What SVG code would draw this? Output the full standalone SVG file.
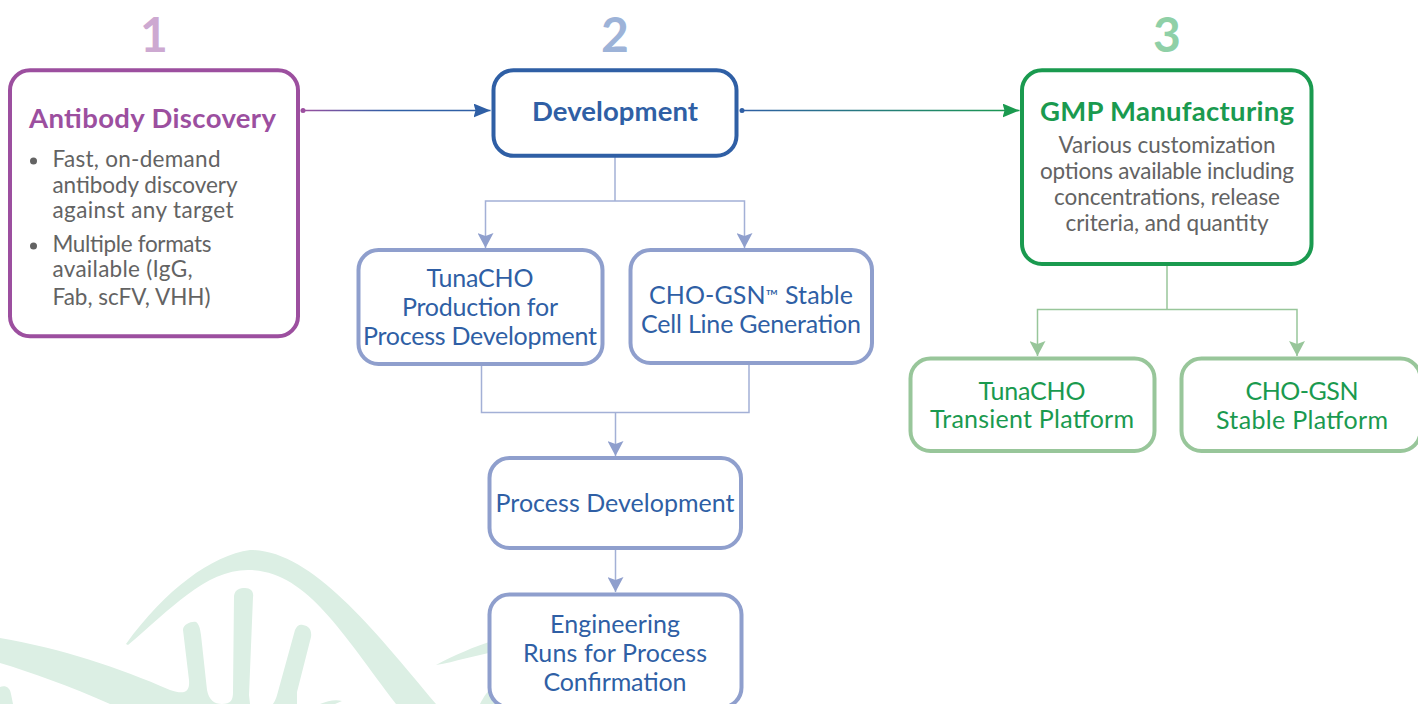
<svg xmlns="http://www.w3.org/2000/svg" width="1418" height="704" viewBox="0 0 1418 704">
<style>
text{font-family:"Lato","Noto Sans","Liberation Sans",sans-serif}
.box{fill:#fff;stroke-width:4}
.num{font-size:48px;font-weight:700;text-anchor:middle}
.h{font-size:27.500px;font-weight:700;text-anchor:middle}
.t{font-size:25px;text-anchor:middle}
.b{fill:#2f5fa5}.g{fill:#1a9a4f}
.d{font-size:22.500px;fill:#636363}
.dc{font-size:22.500px;fill:#636363;text-anchor:middle}
.ln{fill:none;stroke-width:1.5}
</style>
<defs>
<linearGradient id="pb" gradientUnits="userSpaceOnUse" x1="302" y1="0" x2="490" y2="0"><stop offset="0" stop-color="#9c4f9f"/><stop offset="0.45" stop-color="#2f5fa5"/></linearGradient>
<linearGradient id="bg" gradientUnits="userSpaceOnUse" x1="741" y1="0" x2="1018" y2="0"><stop offset="0" stop-color="#2f5fa5"/><stop offset="1" stop-color="#1a9a4f"/></linearGradient>
<marker id="aL" markerUnits="userSpaceOnUse" markerWidth="15" markerHeight="16" refX="15" refY="8" orient="auto"><path d="M0,0L15,8L0,16L3,8Z" fill="#8f9fcd"/></marker>
<marker id="aG" markerUnits="userSpaceOnUse" markerWidth="15" markerHeight="16" refX="15" refY="8" orient="auto"><path d="M0,0L15,8L0,16L3,8Z" fill="#98c69a"/></marker>
<marker id="aB" markerUnits="userSpaceOnUse" markerWidth="17" markerHeight="14" refX="17" refY="7" orient="auto"><path d="M0,0L17,7L0,14L2,7Z" fill="#2f5fa5"/></marker>
<marker id="aD" markerUnits="userSpaceOnUse" markerWidth="17" markerHeight="14" refX="17" refY="7" orient="auto"><path d="M0,0L17,7L0,14L2,7Z" fill="#1a9a4f"/></marker>
</defs>

<g id="background" fill="#dcefe4">
<path d="M126,644C165,590 212,555 250,550C310,550 370,625 436,704H396C340,630 305,570 248,570C205,570 170,610 128,645Z"/>
<path d="M0,638C60,648 120,668 170,690C185,695 190,692 189,680L183,630C183,624 192,621 196,622C199,624 200,628 201,635L207,690C209,700 214,704 222,704C231,704 233,700 233,692L234,596C235,589 240,588 245,588C251,588 254,592 253,597L249,695L250,704H273C276,700 277,695 279,688L295,630C297,625 300,624 303,625C309,626 312,630 311,637L297,692L297,704H110C70,686 30,672 0,663Z"/>
<path d="M0,687C5,685 10,687 11,694L13,704H0Z"/>
<path d="M320,704C328,701 335,699 342,701L335,704Z"/>
<path d="M436,665C455,655 473,647 495,640V652C475,655 455,662 436,665Z"/>
<path d="M480,704C484,696 488,690 495,686V704Z"/>
</g>

<g id="connectors">
<path class="ln" d="M302,110.500H490.500" stroke="url(#pb)" marker-end="url(#aB)"/>
<circle cx="303" cy="110.500" r="2.500" fill="#9c4f9f"/>
<path class="ln" d="M741,110.500H1019.500" stroke="url(#bg)" marker-end="url(#aD)"/>
<circle cx="742" cy="110.500" r="2.500" fill="#2f5fa5"/>
<path class="ln" stroke="#a3b0d6" d="M615,157V201"/>
<path class="ln" stroke="#a3b0d6" d="M615,201H485.500V248" marker-end="url(#aL)"/>
<path class="ln" stroke="#a3b0d6" d="M615,201H744.500V248" marker-end="url(#aL)"/>
<path class="ln" stroke="#a3b0d6" d="M481.500,365V412.500H749V365"/>
<path class="ln" stroke="#a3b0d6" d="M615.500,412.500V456" marker-end="url(#aL)"/>
<path class="ln" stroke="#a3b0d6" d="M615.500,549V592" marker-end="url(#aL)"/>
<path class="ln" stroke="#98c69a" d="M1167,265V309.500"/>
<path class="ln" stroke="#98c69a" d="M1167,309.500H1037.500V356" marker-end="url(#aG)"/>
<path class="ln" stroke="#98c69a" d="M1167,309.500H1297V356" marker-end="url(#aG)"/>
</g>

<g id="num1"><text class="num" x="154" y="52" fill="#cda9d1">1</text></g>
<g id="num2"><text class="num" x="615" y="52" fill="#9db3d8">2</text></g>
<g id="num3"><text class="num" x="1167" y="52" fill="#8fd0a7">3</text></g>

<g id="antibody-discovery">
<rect class="box" x="10" y="70.300" width="288" height="266" rx="20" stroke="#9c4f9f"/>
<text class="h" x="152.500" y="128" fill="#9c4f9f" textLength="247">Antibody Discovery</text>
<circle cx="33.500" cy="161" r="3.500" fill="#636363"/>
<text class="d" x="52.500" y="167" textLength="168">Fast, on-demand</text>
<text class="d" x="52.500" y="193" textLength="185">antibody discovery</text>
<text class="d" x="52.500" y="218" textLength="181">against any target</text>
<circle cx="33.500" cy="246" r="3.500" fill="#636363"/>
<text class="d" x="52.500" y="252" textLength="159">Multiple formats</text>
<text class="d" x="52.500" y="277" textLength="140">available (IgG,</text>
<text class="d" x="52.500" y="305" textLength="158">Fab, scFV, VHH)</text>
</g>

<g id="development">
<rect class="box" x="493.500" y="70.300" width="243" height="85.500" rx="20" stroke="#2f5fa5"/>
<text class="h b" x="615" y="121" textLength="166">Development</text>
</g>

<g id="tunacho-production">
<rect class="box" x="358.500" y="250" width="244" height="114" rx="20" stroke="#8f9fcd"/>
<text class="t b" x="480" y="287" textLength="107">TunaCHO</text>
<text class="t b" x="480" y="316" textLength="156">Production for</text>
<text class="t b" x="480" y="345" textLength="234">Process Development</text>
</g>

<g id="cho-gsn-generation">
<rect class="box" x="630.500" y="250" width="241.500" height="113" rx="20" stroke="#8f9fcd"/>
<text class="t b" x="751" y="304" textLength="204">CHO-GSN<tspan font-size="17" dy="-2">™</tspan><tspan dy="2"> Stable</tspan></text>
<text class="t b" x="751" y="333" textLength="220">Cell Line Generation</text>
</g>

<g id="process-development">
<rect class="box" x="489.500" y="458" width="251.500" height="90" rx="20" stroke="#8f9fcd"/>
<text class="t b" x="615" y="512" textLength="239">Process Development</text>
</g>

<g id="engineering-runs">
<rect class="box" x="489.500" y="594.500" width="252" height="113" rx="20" stroke="#8f9fcd"/>
<text class="t b" x="615" y="633" textLength="130">Engineering</text>
<text class="t b" x="615" y="662" textLength="184">Runs for Process</text>
<text class="t b" x="615" y="691" textLength="143">Confirmation</text>
</g>

<g id="gmp-manufacturing">
<rect class="box" x="1022" y="70.300" width="289.500" height="193.700" rx="20" stroke="#1a9a4f"/>
<text class="h g" x="1167" y="121" textLength="254">GMP Manufacturing</text>
<text class="dc" x="1167" y="153" textLength="217">Various customization</text>
<text class="dc" x="1167" y="179" textLength="254">options available including</text>
<text class="dc" x="1167" y="205" textLength="226">concentrations, release</text>
<text class="dc" x="1167" y="231" textLength="203">criteria, and quantity</text>
</g>

<g id="tunacho-transient">
<rect class="box" x="910.500" y="358.500" width="244" height="92.500" rx="20" stroke="#98c69a"/>
<text class="t g" x="1032" y="400" textLength="107">TunaCHO</text>
<text class="t g" x="1032" y="428" textLength="204">Transient Platform</text>
</g>

<g id="cho-gsn-stable">
<rect class="box" x="1181.500" y="358.500" width="239" height="92.500" rx="20" stroke="#98c69a"/>
<text class="t g" x="1302" y="400" textLength="113">CHO-GSN</text>
<text class="t g" x="1302" y="429" textLength="172">Stable Platform</text>
</g>
</svg>
